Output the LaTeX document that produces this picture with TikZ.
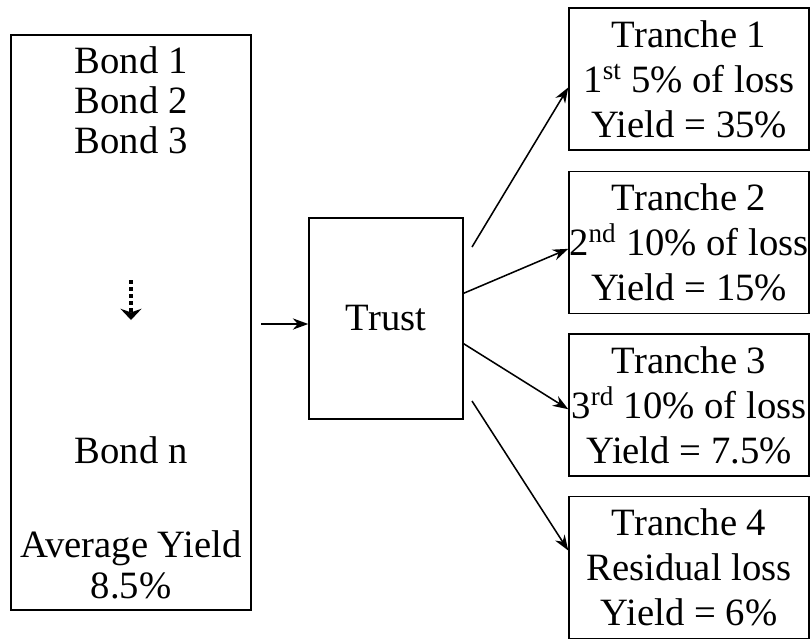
\documentclass[tikz,border=0pt]{standalone}
\usepackage{fontspec}
\setmainfont{Liberation Serif}
\usetikzlibrary{arrows.meta}

\begin{document}
\begin{tikzpicture}[x=0.025cm, y=-0.025cm,
  font=\fontsize{27.5}{32}\selectfont,
  box/.style={draw, line width=1pt, inner sep=0pt},
  tranche/.style={box, minimum width=6cm, minimum height=3.55cm, align=center},
  link/.style={line width=1.1pt, -{Stealth[length=11pt,width=8pt]}}]
\useasboundingbox (0,0) rectangle (810,639);

\node[box, minimum width=6cm, minimum height=14.375cm] (pool) at (131,322.5) {};
\node[anchor=base] (b1) at (131,73) {Bond 1};
\node[anchor=base] (b2) at (131,113) {Bond 2};
\node[anchor=base] (b3) at (131,153) {Bond 3};
\node[anchor=base] (bn) at (131,463) {Bond n};
\node[anchor=base] (avg) at (131,557) {Average Yield};
\node[anchor=base] (avgval) at (131,598) {8.5\%};
\coordinate (dtop) at (131,280);
\coordinate (dbot) at (131,320);
\draw[line width=2.6pt, dash pattern=on 3pt off 2pt, -{Stealth[length=8pt,width=15pt]}] (dtop) -- (dbot);

\node[box, minimum width=3.85cm, minimum height=5.025cm] (trust) at (386,318.5) {Trust};
\coordinate (in) at (261,324);
\draw[link] (in) -- (in -| trust.west);

\node[tranche] (t1) at (689,79) {Tranche 1\\1\textsuperscript{st} 5\% of loss\\Yield = 35\%};
\node[tranche] (t2) at (689,242.5) {Tranche 2\\2\textsuperscript{nd} 10\% of loss\\Yield = 15\%};
\node[tranche] (t3) at (689,405) {Tranche 3\\3\textsuperscript{rd} 10\% of loss\\Yield = 7.5\%};
\node[tranche] (t4) at (689,567.5) {Tranche 4\\Residual loss\\Yield = 6\%};

\coordinate (up) at (472,247);
\coordinate (down) at (472,401);
\draw[link] (up) -- (t1.184);
\draw[link] (trust.18) -- (t2.183);
\draw[link] (trust.342) -- (t3.182);
\draw[link] (down) -- (t4.172);
\end{tikzpicture}
\end{document}
